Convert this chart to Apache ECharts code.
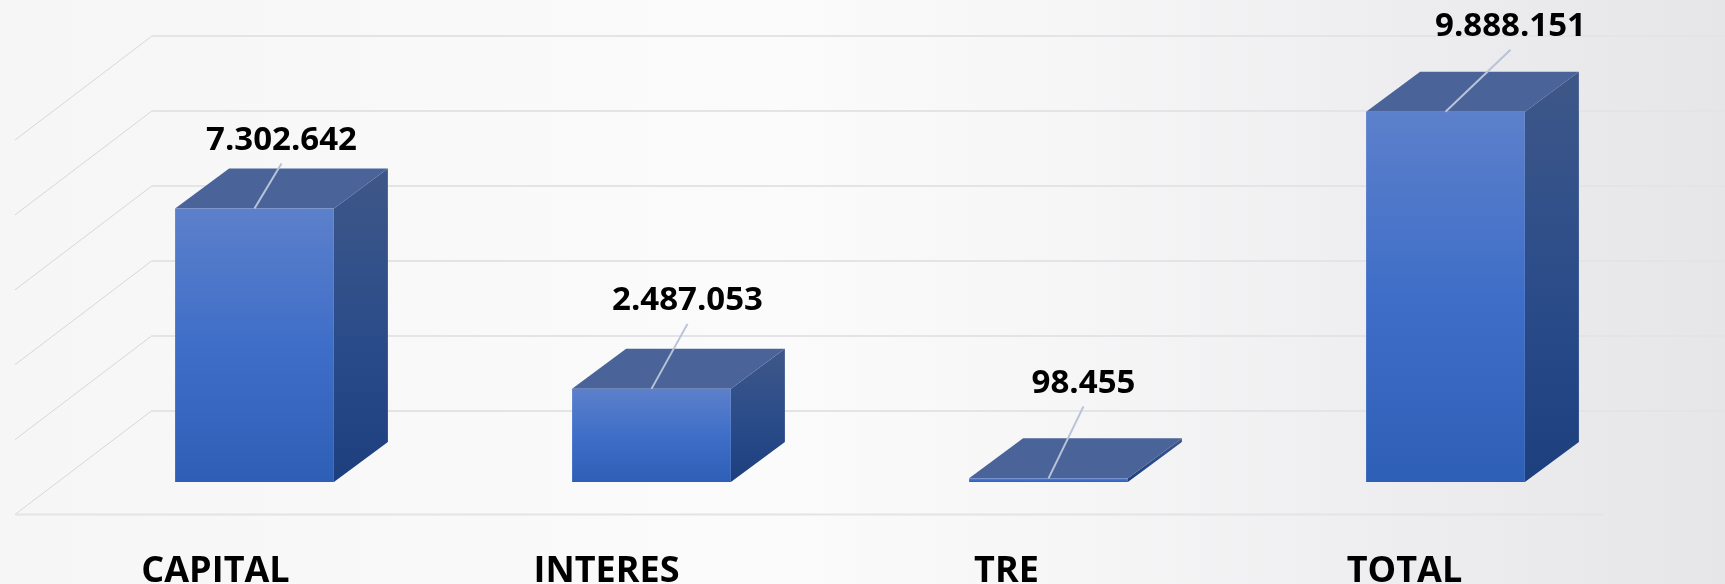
<!DOCTYPE html>
<html lang="es">
<head>
    <meta charset="UTF-8">
    <title>Cartera</title>
    <style>
    html,body{margin:0;padding:0;}
    #main{width:1725px;height:584px;}
    </style>
</head>
<body>
    <div id="main"></div>
    <script src="https://cdn.jsdelivr.net/npm/echarts@6/dist/echarts.min.js"></script>
    <script>
    // datos
    var categories = ['CAPITAL', 'INTERES', 'TRE', 'TOTAL'];
    var values = [7302642, 2487053, 98455, 9888151];
    var yTicks = [0, 2000000, 4000000, 6000000, 8000000, 10000000];

    // ajustes de dibujo por barra
    var leaderEnds = [[27, -45], [36, -65], [35, -72], [65, -62]];
    var categoryShift = [-39, -45, -42, -41];

    var depthX = 54, depthY = 40;      // fondo de cada barra
    var floorX = -137, floorY = 104;   // piso hacia adelante

    function grad(top, mid, bottom) {
        return new echarts.graphic.LinearGradient(0, 0, 0, 1, [
            {offset: 0, color: top},
            {offset: 0.5, color: mid},
            {offset: 1, color: bottom}
        ]);
    }
    function fmt(v) {
        return String(v).replace(/\B(?=(\d{3})+(?!\d))/g, '.');
    }

    function renderSlant(params, api) {
        var v = api.value(0);
        var p = api.coord([0, v]);
        var children = [{
            type: 'line',
            shape: {x1: p[0], y1: p[1], x2: p[0] + floorX, y2: p[1] + floorY},
            style: {stroke: '#d8d8da', lineWidth: 1}
        }];
        if (v === 0) {
            children.push({
                type: 'line',
                shape: {x1: p[0] + floorX, y1: p[1] + floorY, x2: 1604, y2: p[1] + floorY},
                style: {stroke: '#e4e4e6', lineWidth: 2}
            });
        }
        return {type: 'group', children: children};
    }

    function renderBar(params, api) {
        var i = params.dataIndex;
        var v = api.value(1);
        var top = api.coord([i, v]);
        var base = api.coord([i, 0]);
        var w = api.size([1, 0])[0] * 0.4;
        var l = top[0] - w / 2, r = top[0] + w / 2;
        var end = leaderEnds[i];
        return {
            type: 'group',
            children: [{
                type: 'polygon',
                shape: {points: [[r, top[1]], [r + depthX, top[1] - depthY], [r + depthX, base[1] - depthY], [r, base[1]]]},
                style: {fill: grad('#3e5788', '#2c4d8a', '#1d3f7e')}
            }, {
                type: 'polygon',
                shape: {points: [[l, top[1]], [l + depthX, top[1] - depthY], [r + depthX, top[1] - depthY], [r, top[1]]]},
                style: {fill: '#4a6499'}
            }, {
                type: 'rect',
                shape: {x: l, y: top[1], width: w, height: base[1] - top[1]},
                style: {fill: grad('#5c80cb', '#3f6ec8', '#2e5fb6')}
            }, {
                type: 'line',
                shape: {x1: top[0], y1: top[1], x2: top[0] + end[0], y2: top[1] + end[1]},
                style: {stroke: '#b9c3d8', lineWidth: 2}
            }, {
                type: 'text',
                style: {
                    text: fmt(v),
                    x: top[0] + end[0],
                    y: top[1] + end[1] - 23,
                    textAlign: 'center',
                    textVerticalAlign: 'middle',
                    font: 'bold 33px "Open Sans"',
                    fill: '#000'
                }
            }, {
                type: 'text',
                style: {
                    text: categories[i],
                    x: top[0] + categoryShift[i],
                    y: 572,
                    textAlign: 'center',
                    textVerticalAlign: 'middle',
                    font: 'bold 36px "Open Sans"',
                    fill: '#000'
                }
            }]
        };
    }

    var myChart = echarts.init(document.getElementById('main'));
    var option = {
        animation: false,
        backgroundColor: new echarts.graphic.LinearGradient(0, 0, 1, 0, [
            {offset: 0, color: '#f6f6f7'},
            {offset: 0.45, color: '#fbfbfb'},
            {offset: 0.62, color: '#f6f6f7'},
            {offset: 0.8, color: '#eeeef0'},
            {offset: 1, color: '#e6e6e8'}
        ]),
        grid: [
            {left: 152, right: 0, top: 36, height: 374.5},
            {left: 56, width: 1588, top: 107.5, height: 374.5}
        ],
        xAxis: [
            {gridIndex: 0, type: 'value', min: 0, max: 1, show: false},
            {gridIndex: 1, type: 'category', data: categories, show: false}
        ],
        yAxis: [
            {
                gridIndex: 0, type: 'value', min: 0, max: 10000000, interval: 2000000,
                axisLine: {show: false}, axisTick: {show: false}, axisLabel: {show: false},
                splitLine: {show: true, lineStyle: {color: '#e4e4e6', width: 2}}
            },
            {gridIndex: 1, type: 'value', min: 0, max: 10000000, interval: 2000000, show: false}
        ],
        series: [{
            type: 'custom',
            xAxisIndex: 0,
            yAxisIndex: 0,
            silent: true,
            clip: false,
            encode: {y: 0},
            renderItem: renderSlant,
            data: yTicks.map(function (t) { return [t]; })
        }, {
            type: 'custom',
            xAxisIndex: 1,
            yAxisIndex: 1,
            silent: true,
            clip: false,
            encode: {x: 0, y: 1},
            renderItem: renderBar,
            data: values.map(function (v, i) { return [i, v]; })
        }]
    };
    myChart.setOption(option);
    </script>
</body>
</html>
